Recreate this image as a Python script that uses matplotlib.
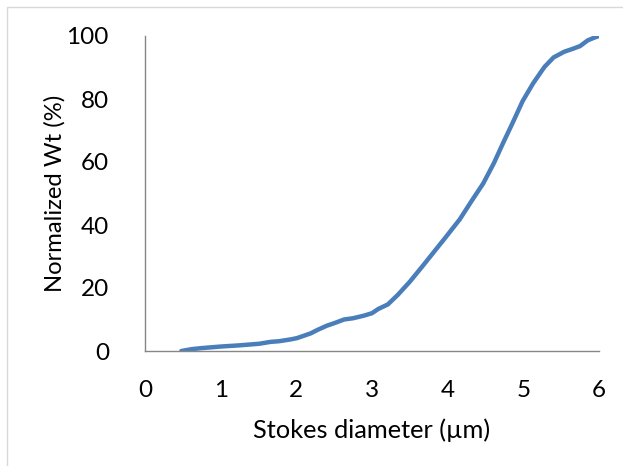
import matplotlib
matplotlib.use("Agg")
import matplotlib.pyplot as plt
from matplotlib.patches import Rectangle

# Cumulative particle-size distribution (Stokes diameter vs normalized weight)
diameter_um = [0.48, 0.62, 0.74, 0.99, 1.25, 1.51, 1.66, 1.77, 1.93, 2.01, 2.19,
               2.28, 2.40, 2.52, 2.63, 2.75, 2.89, 3.00, 3.08, 3.21, 3.34, 3.50,
               3.66, 3.82, 3.97, 4.16, 4.31, 4.47, 4.61, 4.73, 4.86, 4.99, 5.13,
               5.28, 5.40, 5.54, 5.65, 5.75, 5.85, 5.93, 6.00]
normalized_wt = [0.0, 0.6, 0.9, 1.4, 1.8, 2.3, 2.9, 3.1, 3.7, 4.1, 5.6,
                 6.7, 8.0, 9.0, 10.0, 10.4, 11.2, 12.0, 13.3, 14.8, 17.8, 22.0,
                 26.7, 31.5, 36.0, 41.8, 47.4, 53.2, 59.6, 65.9, 72.5, 79.3, 85.0,
                 90.2, 93.2, 95.0, 95.9, 96.8, 98.6, 99.4, 100.0]
x_ticks = [0, 1, 2, 3, 4, 5, 6]
y_ticks = [0, 20, 40, 60, 80, 100]

plt.rcParams['font.family'] = ['Lato', 'DejaVu Sans']

fig = plt.figure(figsize=(6.23, 4.66), dpi=100)
fig.patches.append(Rectangle((7 / 623, -0.05), 1.2, (466 - 7) / 466 + 0.05,
                             transform=fig.transFigure, fill=False,
                             edgecolor='#d9d9d9', linewidth=1.0))

ax = fig.add_axes([145 / 623, 1 - 351 / 466, (599 - 145) / 623, (351 - 36) / 466])
ax.plot(diameter_um, normalized_wt, color='#4a7ebb', linewidth=3.2,
        solid_capstyle='round', solid_joinstyle='round')

ax.set_xlim(0, 6)
ax.set_ylim(0, 100)
ax.set_xticks(x_ticks)
ax.set_yticks(y_ticks)
ax.tick_params(axis='both', length=0, labelsize=17.5, colors='#000000')
ax.tick_params(axis='x', pad=21)
ax.tick_params(axis='y', pad=26)

for side in ('top', 'right'):
    ax.spines[side].set_visible(False)
for side in ('left', 'bottom'):
    ax.spines[side].set_color('#868686')
    ax.spines[side].set_linewidth(1.0)

ax.set_xlabel('Stokes diameter (µm)', fontsize=18.3)
ax.set_ylabel('Normalized Wt (%)', fontsize=17.2)
ax.xaxis.set_label_coords(0.5, -0.215)
ax.yaxis.set_label_coords(-0.175, 0.5)

fig.savefig('out.png', dpi=100)
